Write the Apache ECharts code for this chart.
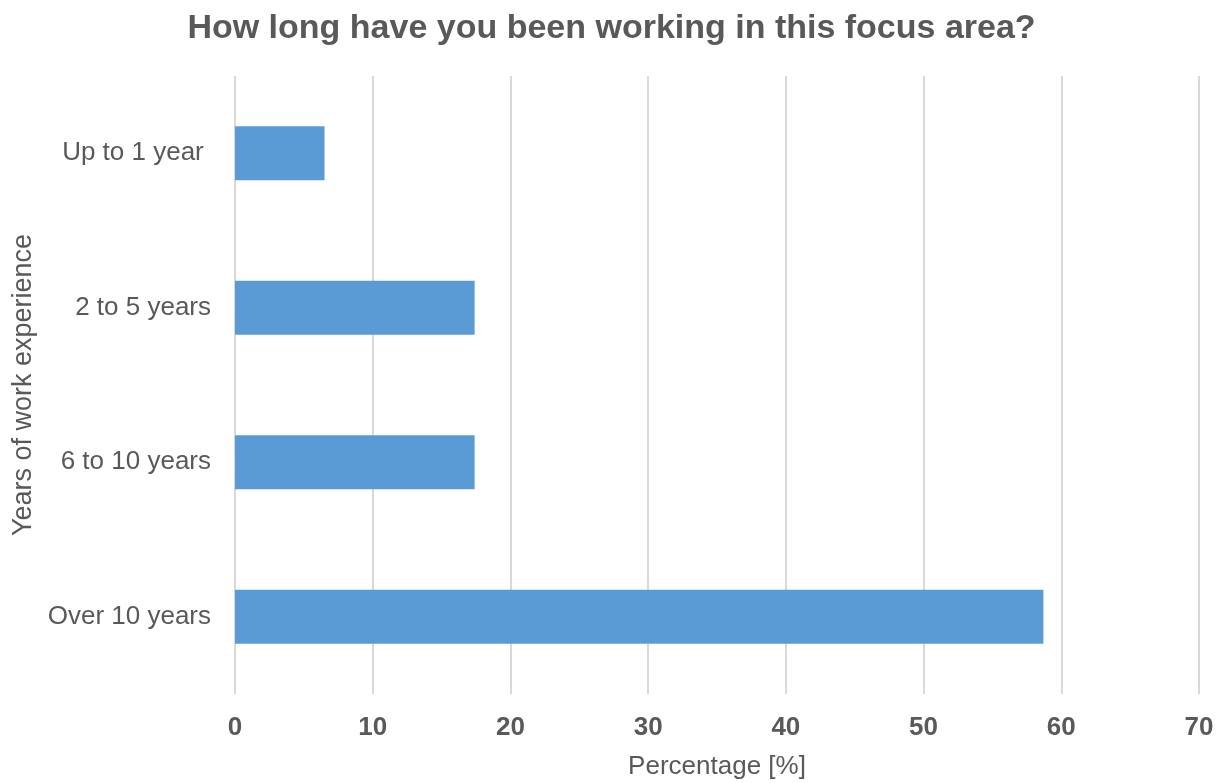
<!DOCTYPE html>
<html><head><meta charset="utf-8">
<script src="https://cdn.jsdelivr.net/npm/echarts@6/dist/echarts.min.js"></script>
<style>html,body{margin:0;padding:0;background:#fff}#c{width:1223px;height:783px}</style>
</head><body><div id="c"></div>
<script>
const categories = ['Up to 1 year ', '2 to 5 years', '6 to 10 years', 'Over 10 years'];
const values = [6.5, 17.4, 17.4, 58.7];
const xTicks = [0, 10, 20, 30, 40, 50, 60, 70];

const chart = echarts.init(document.getElementById('c'));
chart.setOption({
  animation: false,
  title: {
    text: 'How long have you been working in this focus area?',
    left: 'center', top: 7,
    textStyle: { fontFamily: 'Liberation Sans', fontSize: 34, fontWeight: 'bold', color: '#595959' }
  },
  grid: { left: 235, right: 24, top: 76, bottom: 89, outerBoundsMode: 'none', containLabel: false },
  xAxis: {
    type: 'value', min: 0, max: 70, interval: 10,
    name: 'Percentage [%]', nameLocation: 'middle', nameGap: 60,
    nameTextStyle: { fontFamily: 'Liberation Sans', fontSize: 26, color: '#595959' },
    axisLine: { show: false }, axisTick: { show: false },
    axisLabel: { fontFamily: 'Liberation Sans', fontSize: 26, fontWeight: 'bold', color: '#595959', margin: 21,
      formatter: v => xTicks.includes(v) ? String(v) : '' },
    splitLine: { lineStyle: { color: '#d9d9d9', width: 2 } }
  },
  yAxis: {
    type: 'category', data: categories, inverse: true,
    name: 'Years of work experience', nameLocation: 'middle', nameGap: 197, nameRotate: 90,
    nameTextStyle: { fontFamily: 'Liberation Sans', fontSize: 27, color: '#595959' },
    axisLine: { show: false }, axisTick: { show: false },
    axisLabel: { fontFamily: 'Liberation Sans', fontSize: 26, color: '#595959', margin: 24 }
  },
  series: [{
    type: 'bar', data: values, barWidth: '35%',
    itemStyle: { color: '#5B9BD5' }
  }]
});
</script></body></html>
